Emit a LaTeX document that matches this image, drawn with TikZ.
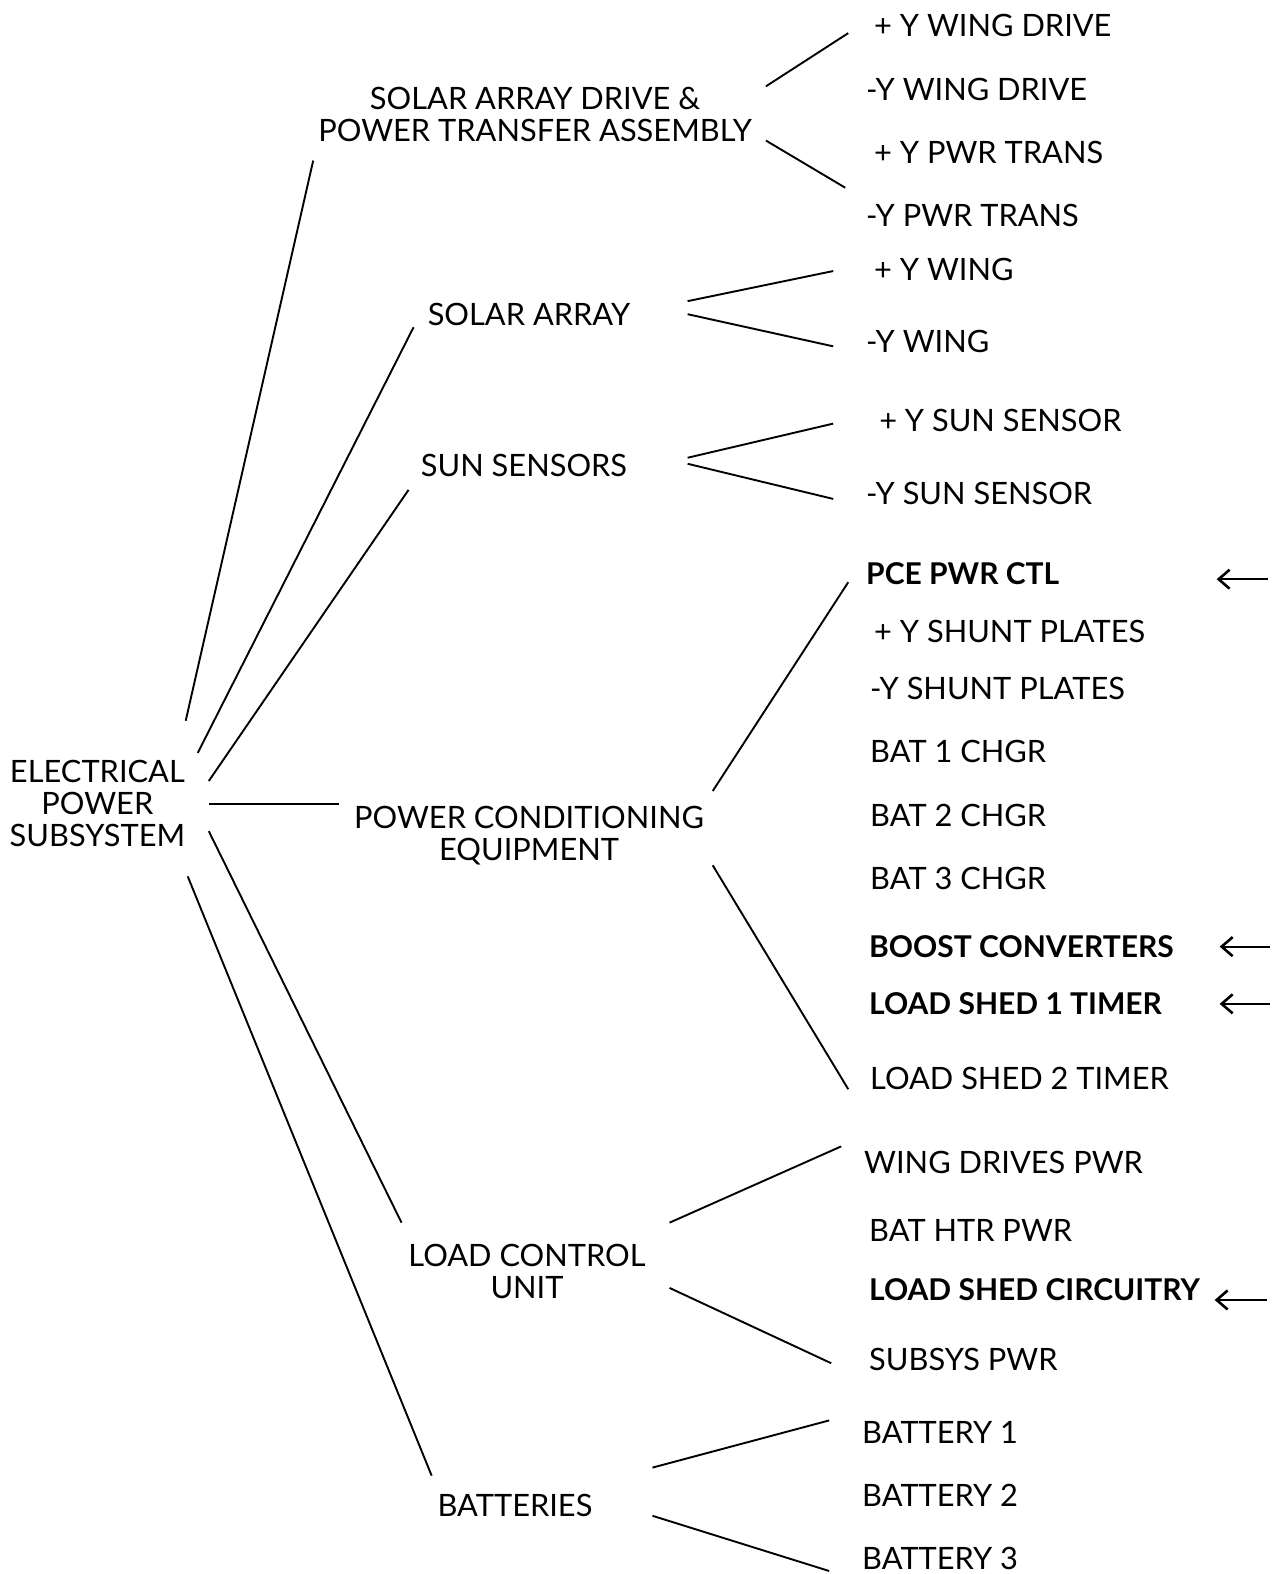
\documentclass[tikz,border=0pt]{standalone}
\usepackage{fontspec}
\setmainfont{Lato}
\usetikzlibrary{arrows.meta, positioning}
\tikzset{
  every picture/.style={line width=1.8pt},
  lbl/.style={font=\fontsize{30.8}{32}\selectfont, inner sep=0pt, align=center},
  leaf/.style={lbl, anchor=west, text height=22pt, text depth=0pt},
  hot/.style={leaf, font=\fontsize{30}{32}\selectfont\bfseries},
  link/.style={draw=black, line width=1.9pt},
  flag/.style={-{Straight Barb[length=11pt, width=19pt, line width=2.6pt]}, line width=2.2pt},
}
\begin{document}
\begin{tikzpicture}[x=1.004pt, y=-1.004pt]
  \useasboundingbox (0,0) rectangle (1280,1568);
  % main groups
  \node[lbl] (eps) at (97,800) {ELECTRICAL\\POWER\\SUBSYSTEM};
  \node[lbl] (sad) at (533,114) {SOLAR ARRAY DRIVE \&\\POWER TRANSFER ASSEMBLY};
  \node[lbl] (sa) at (527,313) {SOLAR ARRAY};
  \node[lbl] (ss) at (522,464) {SUN SENSORS};
  \node[lbl] (pce) at (527,832) {POWER CONDITIONING\\EQUIPMENT};
  \node[lbl] (lcu) at (525,1267) {LOAD CONTROL\\UNIT};
  \node[lbl] (bat) at (513,1500) {BATTERIES};
  % leaves
  \node[leaf] (wdp) at (870,25) {+ Y WING DRIVE};
  \node[leaf] (wdm) at (862,89) {-Y WING DRIVE};
  \node[leaf] (ptp) at (870,152) {+ Y PWR TRANS};
  \node[leaf] (ptm) at (862,215) {-Y PWR TRANS};
  \node[leaf] (wp) at (870,268) {+ Y WING};
  \node[leaf] (wm) at (862,340) {-Y WING};
  \node[leaf] (ssp) at (875,419) {+ Y SUN SENSOR};
  \node[leaf] (ssm) at (862,492) {-Y SUN SENSOR};
  \node[hot] (ctl) at (862,571) {PCE PWR CTL};
  \node[leaf] (shp) at (870,629) {+ Y SHUNT PLATES};
  \node[leaf] (shm) at (866,686) {-Y SHUNT PLATES};
  \node[leaf] (ch1) at (866,749) {BAT 1 CHGR};
  \node[leaf] (ch2) at (866,812) {BAT 2 CHGR};
  \node[leaf] (ch3) at (866,875) {BAT 3 CHGR};
  \node[hot] (bc) at (865,943) {BOOST CONVERTERS};
  \node[hot] (ls1) at (865,1000) {LOAD SHED 1 TIMER};
  \node[leaf] (ls2) at (866,1074) {LOAD SHED 2 TIMER};
  \node[leaf] (wdr) at (860,1158) {WING DRIVES PWR};
  \node[leaf] (htr) at (865,1226) {BAT HTR PWR};
  \node[hot] (lsc) at (865,1285) {LOAD SHED CIRCUITRY};
  \node[leaf] (sub) at (865,1354) {SUBSYS PWR};
  \node[leaf] (b1) at (858,1427) {BATTERY 1};
  \node[leaf] (b2) at (858,1490) {BATTERY 2};
  \node[leaf] (b3) at (858,1553) {BATTERY 3};
  % line ends
  \coordinate (e1) at (185,718); \coordinate (g1) at (312,160);
  \coordinate (e2) at (197,750); \coordinate (g2) at (412,326);
  \coordinate (e3) at (208,778); \coordinate (g3) at (407,488);
  \coordinate (e4) at (208,801); \coordinate (g4) at (338,801);
  \coordinate (e5) at (208,828); \coordinate (g5) at (400,1218);
  \coordinate (e6) at (187,873); \coordinate (g6) at (430,1470);
  \coordinate (sad1) at (763,86); \coordinate (sad2) at (845,33);
  \coordinate (sad3) at (763,140); \coordinate (sad4) at (842,187);
  \coordinate (sa1) at (685,300); \coordinate (sa2) at (830,270);
  \coordinate (sa3) at (685,313); \coordinate (sa4) at (830,345);
  \coordinate (ss1) at (685,456); \coordinate (ss2) at (830,422);
  \coordinate (ss3) at (685,462); \coordinate (ss4) at (830,497);
  \coordinate (pce1) at (710,788); \coordinate (pce2) at (845,580);
  \coordinate (pce3) at (710,862); \coordinate (pce4) at (845,1085);
  \coordinate (lcu1) at (667,1218); \coordinate (lcu2) at (838,1142);
  \coordinate (lcu3) at (667,1283); \coordinate (lcu4) at (828,1358);
  \coordinate (bat1) at (650,1462); \coordinate (bat2) at (826,1415);
  \coordinate (bat3) at (650,1510); \coordinate (bat4) at (826,1565);
  \draw[link] (e1) -- (g1); \draw[link] (e2) -- (g2); \draw[link] (e3) -- (g3);
  \draw[link] (e4) -- (g4); \draw[link] (e5) -- (g5); \draw[link] (e6) -- (g6);
  \draw[link] (sad1) -- (sad2); \draw[link] (sad3) -- (sad4);
  \draw[link] (sa1) -- (sa2); \draw[link] (sa3) -- (sa4);
  \draw[link] (ss1) -- (ss2); \draw[link] (ss3) -- (ss4);
  \draw[link] (pce1) -- (pce2); \draw[link] (pce3) -- (pce4);
  \draw[link] (lcu1) -- (lcu2); \draw[link] (lcu3) -- (lcu4);
  \draw[link] (bat1) -- (bat2); \draw[link] (bat3) -- (bat4);
  % marker arrows
  \coordinate (f1) at (1263,577); \coordinate (t1) at (1212,577);
  \coordinate (f2) at (1265,943); \coordinate (t2) at (1215,943);
  \coordinate (f3) at (1265,1000); \coordinate (t3) at (1215,1000);
  \coordinate (f4) at (1262,1295); \coordinate (t4) at (1210,1295);
  \draw[flag] (f1) -- (t1); \draw[flag] (f2) -- (t2); \draw[flag] (f3) -- (t3); \draw[flag] (f4) -- (t4);
\end{tikzpicture}
\end{document}
